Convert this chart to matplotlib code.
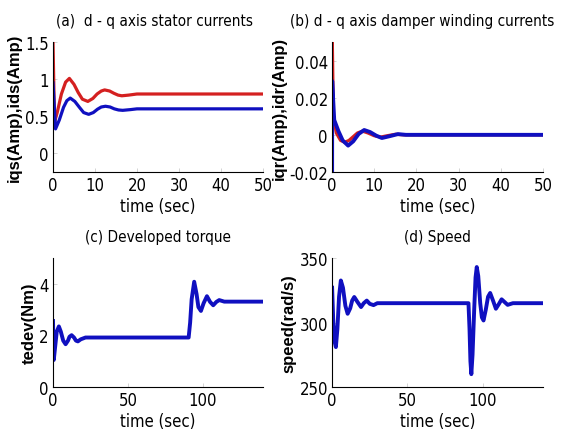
import matplotlib
matplotlib.use("Agg")
import matplotlib.pyplot as plt

# (a) d-q axis stator currents
t_a_red = [0, 0.35, 1, 2, 3, 3.9, 5, 6, 7, 8.3, 9.5, 10.5, 11.5, 12.3, 13.5, 14.5, 15.5, 16.4, 18, 20, 50]
ids_a = [1.5, 0.42, 0.55, 0.8, 0.96, 1.01, 0.93, 0.82, 0.73, 0.70, 0.74, 0.8, 0.84, 0.855, 0.84, 0.81, 0.785, 0.776, 0.785, 0.8, 0.8]
t_a_blue = [0, 0.6, 1.5, 2.5, 3.3, 4.1, 5.2, 6.3, 7.3, 8.5, 9.6, 10.6, 11.5, 12.5, 13.6, 14.6, 15.6, 16.6, 18.5, 20, 50]
iqs_a = [0.95, 0.33, 0.45, 0.62, 0.71, 0.745, 0.70, 0.62, 0.55, 0.526, 0.55, 0.595, 0.625, 0.635, 0.625, 0.6, 0.585, 0.58, 0.59, 0.6, 0.6]

# (b) d-q axis damper winding currents
t_b_red = [0, 0.05, 0.3, 1, 2, 3, 4, 5, 6, 7.2, 8.5, 10, 11.5, 13, 15, 17, 50]
idr_b = [0.0, 0.05, 0.01, 0.001, -0.003, -0.004, -0.003, -0.001, 0.001, 0.002, 0.001, -0.0005, -0.0012, -0.0005, 0.0003, 0.0, 0.0]
t_b_blue = [0, 0.02, 0.5, 1.5, 2.5, 3.8, 5, 6.3, 7.6, 9, 10.5, 11.8, 13.5, 15.6, 17.5, 50]
iqr_b = [-0.02, 0.029, 0.008, 0.002, -0.003, -0.0058, -0.0035, 0.0005, 0.0026, 0.0015, -0.0005, -0.0017, -0.0008, 0.0004, 0.0, 0.0]

# (c) developed torque
t_c = [0, 0.5, 1.5, 2.5, 3.9, 5.2, 6.8, 8.4, 10, 11, 12.4, 14, 15.3, 16.6, 18.5, 21.7, 90.5, 91.5, 92.5,
       94.2, 95.8, 97, 98.7, 100.5, 102.7, 104.8, 106.9, 109, 110.9, 114.3, 140]
tedev = [2.56, 1.05, 1.6, 2.15, 2.35, 2.15, 1.8, 1.66, 1.8, 1.95, 2.01, 1.92, 1.8, 1.77, 1.85, 1.92, 1.92, 2.5, 3.4,
         4.08, 3.6, 3.1, 2.95, 3.25, 3.52, 3.3, 3.17, 3.3, 3.37, 3.31, 3.31]

# (d) speed
t_d = [0, 0.8, 1.7, 2.5, 3.5, 4.6, 5.8, 7.2, 8.8, 10.3, 12, 13.3, 14.7, 16.8, 19.2, 21, 23, 25, 27.5, 30,
       90.5, 91.2, 91.8, 92.4, 93.2, 94.3, 95.2, 96, 97, 98.3, 99.4, 100.5, 102, 103.5, 104.9, 106.8, 108.7,
       110.5, 112.5, 116.5, 120, 140]
speed = [327, 300, 285, 281, 295, 320, 332.6, 327, 313, 306.8, 311, 317, 319.8, 316, 312, 315, 317, 314.5, 313.5, 315,
         315, 295, 270, 260, 275, 310, 335, 343, 336, 315, 304, 301.6, 310, 320, 322.9, 317, 310.7,
         314, 318, 313.7, 315, 315]

RED = "#d42020"
BLUE = "#1010c0"

cond = dict(family="DejaVu Sans", stretch="condensed")
lab = dict(family="Liberation Sans", weight="bold", size=12)

fig = plt.figure(figsize=(5.61, 4.39), dpi=100)


def style(ax, xlim, ylim, xticks, yticks, yticklabels, ylabel):
    ax.set_xlim(*xlim)
    ax.set_ylim(*ylim)
    ax.set_xticks(xticks)
    ax.set_yticks(yticks)
    ax.set_xticklabels([str(v) for v in xticks], fontsize=12, **cond)
    ax.set_yticklabels(yticklabels, fontsize=12, **cond)
    ax.spines["top"].set_visible(False)
    ax.spines["right"].set_visible(False)
    ax.tick_params(direction="in", length=3, width=0.6, colors="#cccccc", labelcolor="black", pad=3)
    ax.set_xlabel("time (sec)", fontsize=12, labelpad=2, **cond)
    ax.set_ylabel(ylabel, labelpad=2, **lab)


ax1 = fig.add_axes([0.0945, 0.606, 0.374, 0.296])
ax1.plot(t_a_red, ids_a, color=RED, lw=2.3)
ax1.plot(t_a_blue, iqs_a, color=BLUE, lw=2.3)
style(ax1, (0, 50), (-0.25, 1.5), [0, 10, 20, 30, 40, 50], [0, 0.5, 1, 1.5], ["0", "0.5", "1", "1.5"],
      "iqs(Amp),ids(Amp)")
fig.text(0.276, 0.95, "(a)  d - q axis stator currents", ha="center", va="center", fontsize=11, **cond)

ax2 = fig.add_axes([0.592, 0.606, 0.376, 0.296])
ax2.plot(t_b_red, idr_b, color=RED, lw=2.3)
ax2.plot(t_b_blue, iqr_b, color=BLUE, lw=2.8)
style(ax2, (0, 50), (-0.02, 0.05), [0, 10, 20, 30, 40, 50], [-0.02, 0, 0.02, 0.04], ["-0.02", "0", "0.02", "0.04"],
      "iqr(Amp),idr(Amp)")
fig.text(0.753, 0.95, "(b) d - q axis damper winding currents", ha="center", va="center", fontsize=11, **cond)

ax3 = fig.add_axes([0.0945, 0.116, 0.374, 0.294])
ax3.plot(t_c, tedev, color=BLUE, lw=2.8)
style(ax3, (0, 140), (0, 5), [0, 50, 100], [0, 2, 4], ["0", "2", "4"], "tedev(Nm)")
ax3.set_title("(c) Developed torque", fontsize=11, pad=12, **cond)

ax4 = fig.add_axes([0.592, 0.116, 0.376, 0.294])
ax4.plot(t_d, speed, color=BLUE, lw=2.8)
style(ax4, (0, 140), (250, 350), [0, 50, 100], [250, 300, 350], ["250", "300", "350"], "speed(rad/s)")
ax4.set_title("(d) Speed", fontsize=11, pad=12, **cond)

fig.savefig("out.png", dpi=100)
